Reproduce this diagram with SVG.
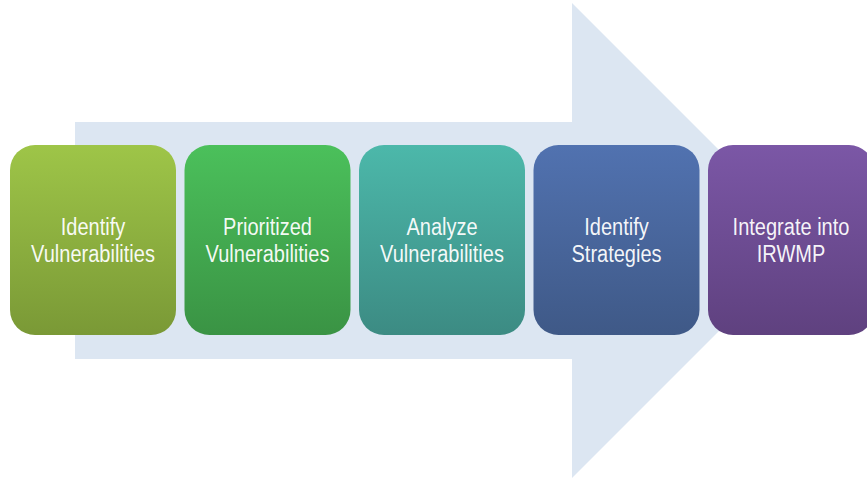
<svg xmlns="http://www.w3.org/2000/svg" width="867" height="480" viewBox="0 0 867 480">
<defs>
<linearGradient id="g1" x1="0" y1="0" x2="0" y2="1"><stop offset="0" stop-color="#9ec548"/><stop offset="1" stop-color="#7a9936"/></linearGradient>
<linearGradient id="g2" x1="0" y1="0" x2="0" y2="1"><stop offset="0" stop-color="#4bc05b"/><stop offset="1" stop-color="#3a9344"/></linearGradient>
<linearGradient id="g3" x1="0" y1="0" x2="0" y2="1"><stop offset="0" stop-color="#4cb8aa"/><stop offset="1" stop-color="#3c8b83"/></linearGradient>
<linearGradient id="g4" x1="0" y1="0" x2="0" y2="1"><stop offset="0" stop-color="#5172b0"/><stop offset="1" stop-color="#3f5987"/></linearGradient>
<linearGradient id="g5" x1="0" y1="0" x2="0" y2="1"><stop offset="0" stop-color="#7b57a6"/><stop offset="1" stop-color="#5f417f"/></linearGradient>
</defs>
<style>
.box{stroke:none}
.lbl{font-family:"Liberation Sans",Arial,sans-serif;font-size:23px;fill:#ffffff;fill-opacity:0.95;text-anchor:middle}
</style>
<g id="connectors">
<path d="M75,122 H572 V3 L809.5,240.5 L572,478 V359 H75 Z" fill="#dce6f2"/>
</g>
<g id="n1">
<rect class="box" x="10" y="145" width="166" height="190" rx="25" fill="url(#g1)"/>
<text class="lbl" transform="translate(93,0) scale(0.87,1)"><tspan x="0" y="235">Identify</tspan><tspan x="0" y="262">Vulnerabilities</tspan></text>
</g>
<g id="n2">
<rect class="box" x="184.5" y="145" width="166" height="190" rx="25" fill="url(#g2)"/>
<text class="lbl" transform="translate(267.5,0) scale(0.87,1)"><tspan x="0" y="235">Prioritized</tspan><tspan x="0" y="262">Vulnerabilities</tspan></text>
</g>
<g id="n3">
<rect class="box" x="359" y="145" width="166" height="190" rx="25" fill="url(#g3)"/>
<text class="lbl" transform="translate(442,0) scale(0.87,1)"><tspan x="0" y="235">Analyze</tspan><tspan x="0" y="262">Vulnerabilities</tspan></text>
</g>
<g id="n4">
<rect class="box" x="533.5" y="145" width="166" height="190" rx="25" fill="url(#g4)"/>
<text class="lbl" transform="translate(616.5,0) scale(0.87,1)"><tspan x="0" y="235">Identify</tspan><tspan x="0" y="262">Strategies</tspan></text>
</g>
<g id="n5">
<rect class="box" x="708" y="145" width="166" height="190" rx="25" fill="url(#g5)"/>
<text class="lbl" transform="translate(791,0) scale(0.87,1)"><tspan x="0" y="235">Integrate into</tspan><tspan x="0" y="262">IRWMP</tspan></text>
</g>
</svg>
